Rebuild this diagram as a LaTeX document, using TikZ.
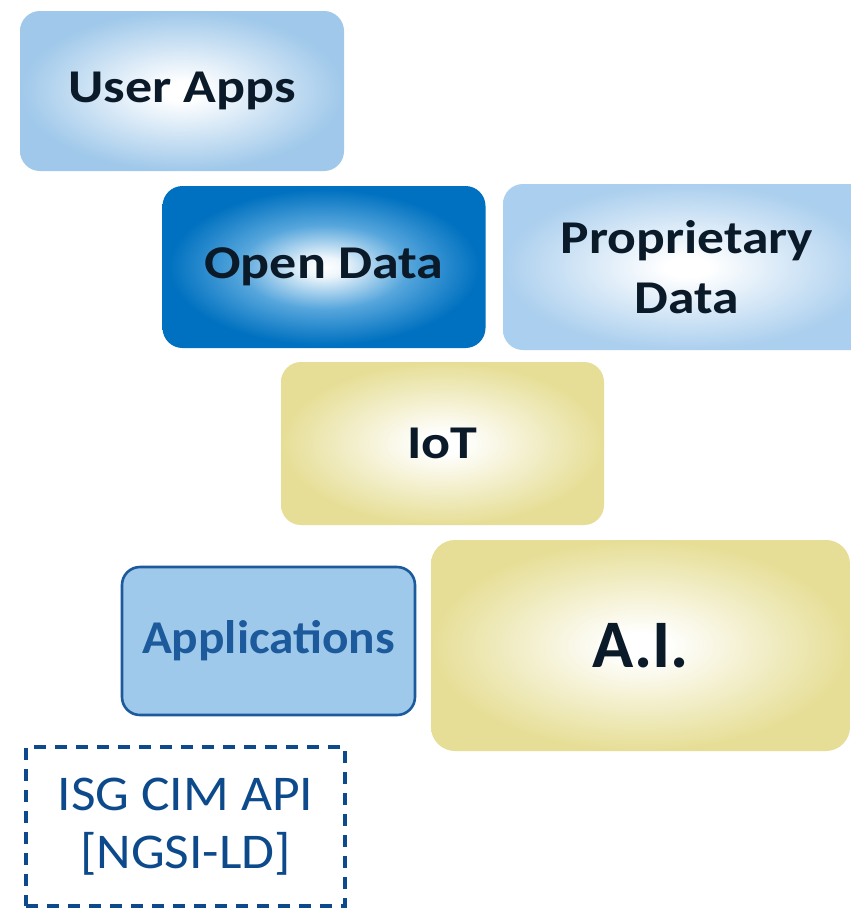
\documentclass[tikz,border=0pt]{standalone}
\usepackage{fontspec}
\setmainfont{Carlito}
\definecolor{softblue}{HTML}{9FC8EA}
\definecolor{paleblue}{HTML}{ABCFEE}
\definecolor{deepblue}{HTML}{0071C0}
\definecolor{midblue}{HTML}{56A6DC}
\definecolor{khaki}{HTML}{E6DE96}
\definecolor{appfill}{HTML}{9FC9EB}
\definecolor{appline}{HTML}{1C5A9C}
\definecolor{inkdark}{HTML}{0B1A29}
\definecolor{apiblue}{HTML}{0D4A8C}
% radial glows: light centre fading to the tile colour at the border
\pgfdeclareradialshading{softglow}{\pgfpointorigin}{color(0bp)=(white); color(3bp)=(white); color(25bp)=(softblue); color(50bp)=(softblue)}
\pgfdeclareradialshading{paleglow}{\pgfpointorigin}{color(0bp)=(white); color(3bp)=(white); color(25bp)=(paleblue); color(50bp)=(paleblue)}
\pgfdeclareradialshading{deepglow}{\pgfpointorigin}{color(0bp)=(white); color(3bp)=(white!90!midblue); color(13bp)=(midblue); color(24bp)=(deepblue); color(50bp)=(deepblue)}
\pgfdeclareradialshading{khakiglow}{\pgfpointorigin}{color(0bp)=(white); color(3bp)=(white); color(25bp)=(khaki); color(50bp)=(khaki)}
\newcommand{\tilefont}[2]{\bfseries\fontsize{#1}{60}\selectfont\addfontfeature{FakeStretch=#2}}
\begin{document}
\begin{tikzpicture}[x=1pt,y=-1pt]
\tikzset{
  tile/.style={rounded corners=20pt, inner sep=0pt, align=center, text=inkdark,
    font=\tilefont{47}{1.15}},
}
\useasboundingbox (0,0) rectangle (851,908);
\fill[white] (0,0) rectangle (851,908);

\node[tile, shading=softglow, minimum width=324pt, minimum height=160pt] (userapps) at (182,91) {User Apps};
\node[tile, shading=deepglow, minimum width=323pt, minimum height=162pt] (opendata) at (324,267) {Open Data};
\node[tile, shading=paleglow, minimum width=368pt, minimum height=166pt, font=\tilefont{47}{1.14}] (propdata) at (687,267) {Proprietary\\Data};
\node[tile, shading=khakiglow, minimum width=323pt, minimum height=163pt] (iot) at (442.5,443.5) {IoT};
\node[tile, rounded corners=18pt, fill=appfill, draw=appline, line width=2.6pt, text=appline,
  minimum width=293pt, minimum height=148pt, font=\tilefont{47}{1.05}] (apps) at (268.5,641) {Applications};
\node[tile, rounded corners=24pt, shading=khakiglow, minimum width=419pt, minimum height=211pt,
  font=\tilefont{68}{1.0}] (ai) at (640.5,645.5) {A.I.};
\node[draw=apiblue, dash pattern=on 12pt off 9pt, line width=3.4pt, inner sep=0pt, align=center,
  text=apiblue, font=\fontsize{50}{58}\selectfont\addfontfeature{FakeStretch=1.07},
  minimum width=319pt, minimum height=159pt] (api) at (185.5,826.5) {ISG CIM API\\{}[NGSI-LD]};
\end{tikzpicture}
\end{document}
